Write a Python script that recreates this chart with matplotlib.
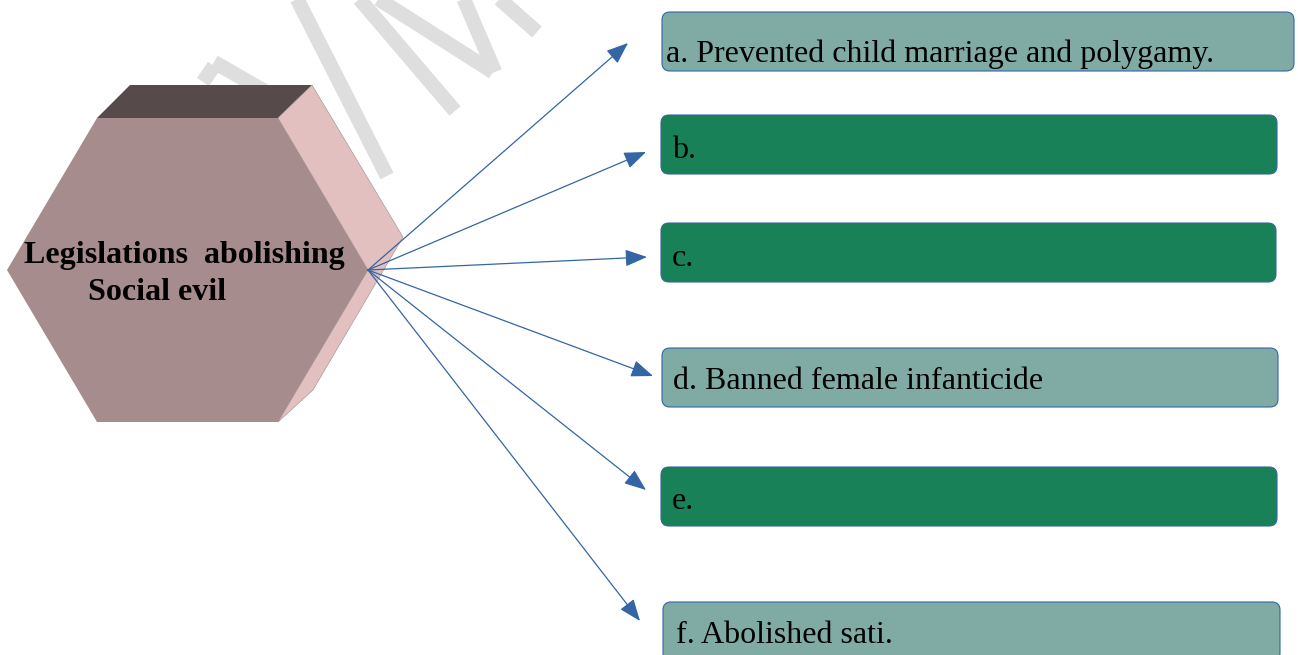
import matplotlib
matplotlib.use("Agg")
import matplotlib.pyplot as plt
from matplotlib.patches import Polygon, FancyBboxPatch

# diagram content
center_lines = ["Legislations  abolishing", "Social evil"]
item_labels = ["a. Prevented child marriage and polygamy.", "b.", "c.",
               "d. Banned female infanticide", "e.", "f. Abolished sati."]
item_filled = [True, False, False, True, False, True]   # True = answer given (light teal)

# layout (pixel space of the 1298x655 picture)
box_left = [662, 661, 661, 662, 661, 663]
box_right = [1294, 1277, 1276, 1278, 1277, 1280]
box_top = [12, 115, 223, 348, 467, 602]
box_h = 59
text_x = [666, 672, 672, 673, 672, 676]
text_base = [62, 158, 266, 389, 509, 643]
arrow_tips = [(628, 43), (646, 152), (647, 257), (653, 376), (646, 490), (640, 621)]
hub = (368, 270)

TEAL = "#80aba5"
GREEN = "#198158"
EDGE = "#3465a4"

fig = plt.figure(figsize=(12.98, 6.55), dpi=100)
ax = fig.add_axes([0, 0, 1, 1])
ax.set_xlim(0, 1298)
ax.set_ylim(655, 0)
ax.axis("off")

# faint watermark strokes behind everything
wm = [((203, 82), (214, 66)), ((214, 62), (280, 100)), ((295, -5), (387, 176)),
      ((356, -5), (455, 111)), ((372, -5), (493, 72)), ((462, -5), (495, 72)),
      ((495, -5), (537, 32))]
for (x0, y0), (x1, y1) in wm:
    ax.plot([x0, x1], [y0, y1], color="#dedede", lw=10.5, solid_capstyle="butt", zorder=0)

# 3d hexagon: top face, right face, front face
ax.add_patch(Polygon([(97, 118), (130, 85), (312, 85), (278, 118)],
                     closed=True, fc="#564a4a", ec="none", zorder=2))
ax.add_patch(Polygon([(278, 118), (312, 85), (403, 237), (313, 390), (278, 422), (368, 270)],
                     closed=True, fc="#e3c0c0", ec="#9a8c8c", lw=0.4, zorder=2))
ax.add_patch(Polygon([(7, 270), (97, 118), (278, 118), (368, 270), (278, 422), (97, 422)],
                     closed=True, fc="#a68c8c", ec="none", zorder=3))

ax.text(24, 263, center_lines[0], family="Liberation Serif", weight="bold",
        fontsize=23, ha="left", va="baseline", zorder=5)
ax.text(88, 300, center_lines[1], family="Liberation Serif", weight="bold",
        fontsize=23, ha="left", va="baseline", zorder=5)

# arrows from the hub to each box
for tip in arrow_tips:
    ax.annotate("", xy=tip, xytext=hub,
                arrowprops=dict(arrowstyle="-|>,head_length=0.9,head_width=0.35",
                                mutation_scale=15, color=EDGE, lw=0.9,
                                shrinkA=0, shrinkB=0), zorder=4)

# answer boxes
for i, lab in enumerate(item_labels):
    fc = TEAL if item_filled[i] else GREEN
    ax.add_patch(FancyBboxPatch((box_left[i], box_top[i]), box_right[i] - box_left[i], box_h,
                                boxstyle="round,pad=0,rounding_size=8",
                                fc=fc, ec=EDGE, lw=0.8, zorder=3))
    ax.text(text_x[i], text_base[i], lab, family="Liberation Serif", fontsize=23,
            color="black", ha="left", va="baseline", zorder=5)

fig.savefig("out.png", dpi=100)
